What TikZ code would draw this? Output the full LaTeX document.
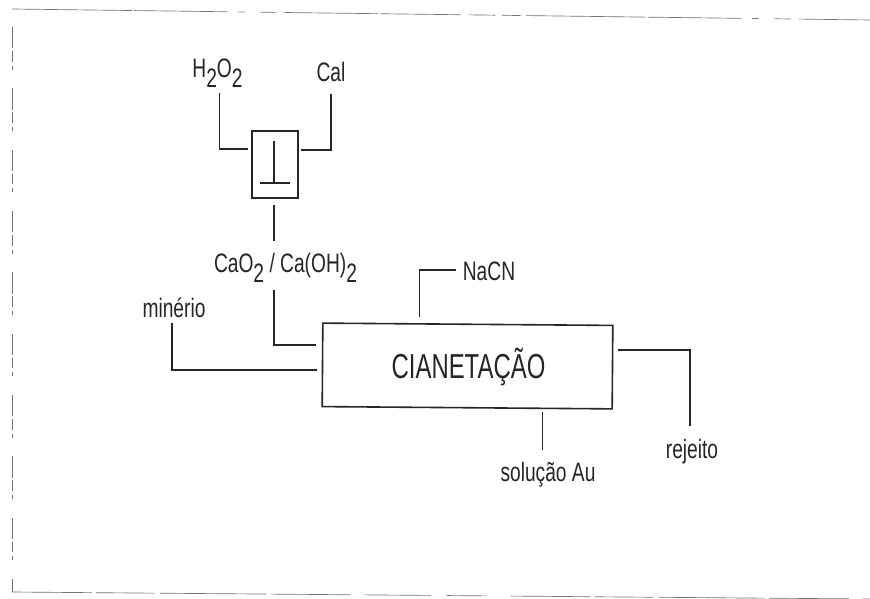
\documentclass[tikz,border=0pt]{standalone}
\usepackage{fontspec}
\setmainfont[FakeStretch=0.72]{Liberation Sans}
\newfontfamily\bigfont[FakeStretch=0.69]{Liberation Sans}
\usetikzlibrary{calc}
\newcommand{\lowtwo}{\raisebox{-7.5pt}{2}}
\tikzset{
  x=0.75pt,y=-0.75pt,
  flow/.style={line width=1.1pt,color=black!85,line join=miter},
  flowthin/.style={line width=0.8pt,color=black!85},
  boxed/.style={draw=black!85,line width=1.2pt,rectangle,inner sep=0pt,fill=white},
  lab/.style={font=\fontsize{20pt}{22pt}\selectfont,text=black!85,inner sep=0pt,anchor=base},
  frameline/.style={line width=0.5pt,color=black!55}
}
\begin{document}
\begin{tikzpicture}
\useasboundingbox (0,0) rectangle (870,599);
\fill[white] (0,0) rectangle (870,599);
% scanned page frame
\draw[frameline,dash pattern=on 90pt off 1.5pt on 70pt off 8pt on 5pt off 12pt on 12pt off 6pt on 70pt off 2pt on 60pt off 6pt on 20pt off 5pt on 14pt off 4pt] (12,9) -- (870,20);
\draw[frameline,dash pattern=on 16pt off 2pt on 8pt off 3pt on 3pt off 14pt] (12,27) -- (12,592);
\draw[frameline,dash pattern=on 60pt off 3pt on 44pt off 4pt on 80pt off 3pt on 60pt off 10pt on 50pt off 12pt on 30pt off 18pt] (12,592) -- (870,599);
% nodes
\node[boxed,minimum width=34.5pt,minimum height=50.5pt] (mix) at (275,164.5) {};
\node[boxed,rotate=-0.45,minimum width=217.5pt,minimum height=62.6pt] (cian) at (467.5,366) {};
\node[font=\bigfont\fontsize{26pt}{28pt}\selectfont,text=black!85,inner sep=0pt,anchor=base] (ciantext) at (468.5,378) {CIANETAÇÃO};
\node[lab] (h2o2) at (217.5,78) {H\lowtwo O\lowtwo};
\node[lab] (cal) at (331,82) {Cal};
\node[lab] (prod) at (285.5,272) {CaO\lowtwo{} / Ca(OH)\lowtwo};
\node[lab] (nacn) at (489,280) {NaCN};
\node[lab] (minerio) at (174,317) {minério};
\node[lab] (solucao) at (548,481) {solução Au};
\node[lab] (rejeito) at (692,458) {rejeito};
% settler symbol inside the small box
\coordinate (symtop) at (274,141);
\coordinate (symfoot) at (274,183);
\coordinate (symL) at (260,183);
\coordinate (symR) at (290,183);
\draw[flowthin] (symtop) -- (symfoot);
\draw[line width=1.5pt,color=black!85] (symL) -- (symR);
% connectors
\draw[flow,shorten <=3.75pt,shorten >=2.25pt] ([xshift=1.5pt]h2o2.south) |- ([yshift=11.6pt]mix.west);
\draw[flow,shorten <=8.25pt,shorten >=1.5pt] (cal.south) |- ([yshift=10.9pt]mix.east);
\draw[flowthin,shorten <=4.5pt,shorten >=8.25pt] (mix.south -| symfoot) -- (prod.north -| symfoot);
\draw[flow,shorten <=6pt,shorten >=4pt] (prod.south -| symfoot) |- ([yshift=15pt]cian.west);
\draw[flow,shorten <=5.25pt,shorten >=4.9pt] ([yshift=0.75pt]nacn.west) -| ([xshift=-36.4pt]cian.north);
\draw[flow,shorten <=3.75pt,shorten >=3.5pt] ([xshift=-1.5pt]minerio.south) |- ([yshift=-3.75pt]cian.west);
\draw[flow,shorten <=3.75pt,shorten >=9pt] ([yshift=12.75pt]cian.east) -| ([xshift=-1.5pt]rejeito.north);
\draw[flowthin,shorten <=2.8pt,shorten >=8.5pt] ([xshift=56.6pt]cian.south) -- ([xshift=56.6pt]cian.south |- solucao.north);
\end{tikzpicture}
\end{document}
